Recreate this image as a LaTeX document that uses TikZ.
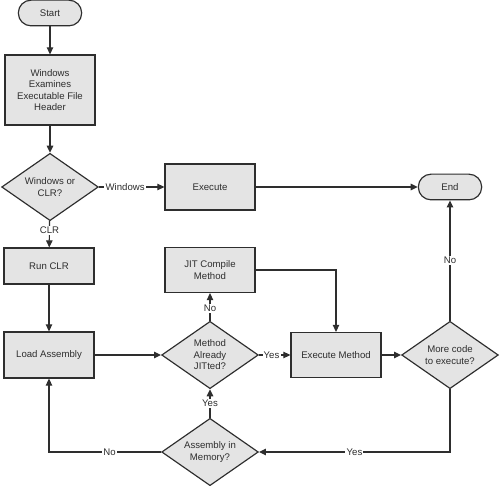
\documentclass[tikz,border=0pt]{standalone}
\usepackage{fontspec}
\setmainfont{Liberation Sans}
\usetikzlibrary{shapes.geometric,arrows.meta}
\definecolor{boxgray}{HTML}{E4E4E4}
\definecolor{linegray}{HTML}{2E2E2E}
\tikzset{
    stepbox/.style={rectangle, draw=linegray, fill=boxgray, line width=1pt, align=center, minimum width=2.7cm, inner sep=1pt},
    termbox/.style={rectangle, rounded corners=0.38cm, draw=linegray, fill=boxgray, line width=1pt, minimum width=1.9cm, minimum height=0.77cm},
    askbox/.style={diamond, draw=linegray, fill=boxgray, line width=1pt, align=center, aspect=1.45, inner sep=0pt, minimum width=2.9cm, minimum height=2.02cm},
    lbl/.style={fill=white, inner sep=1pt, text=linegray}
}
\begin{document}
\begin{tikzpicture}[x=0.03cm, y=-0.03cm, -{Triangle[length=6pt,width=5.5pt]}, line width=1pt, draw=linegray, text=linegray, font=\fontsize{8.2}{9.8}\selectfont]
    \useasboundingbox (0,0) rectangle (500,486);
    % Start up
    \node[termbox] (start) at (50,13) {Start};
    \node[stepbox, minimum height=2.1cm] (header) at (50,90) {Windows\\Examines\\Executable File\\Header};
    \node[askbox] (wclr) at (50,187) {Windows or\\CLR?};
    \node[stepbox, minimum height=1.38cm] (exec) at (210,187) {Execute};
    \node[termbox] (end) at (450,187) {End};
    % CLR branch
    \node[stepbox, minimum height=1.08cm] (runclr) at (49,266) {Run CLR};
    \node[stepbox, minimum height=1.38cm] (load) at (49,355) {Load Assembly};
    \node[stepbox, minimum height=1.35cm] (jit) at (210,270) {JIT Compile\\Method};
    \node[askbox] (jitted) at (210,355) {Method\\Already\\JITted?};
    \node[askbox] (inmem) at (210,452) {Assembly in\\Memory?};
    \node[stepbox, minimum height=1.35cm] (execm) at (336,355) {Execute Method};
    \node[askbox] (more) at (450,355) {More code\\to execute?};

    \draw (start) -- (header);
    \draw (header) -- (wclr);
    \draw (wclr) -- node[lbl, pos=0.35] {CLR} (runclr);
    \draw (wclr) -- node[lbl, pos=0.4] {Windows} (exec);
    \draw (exec) -- (end);
    \draw (runclr) -- (load);
    \draw (load) -- (jitted);
    \draw (jitted) -- node[lbl, pos=0.45] {No} (jit);
    \draw (jit) -| (execm);
    \draw (jitted) -- node[lbl, pos=0.4] {Yes} (execm);
    \draw (execm) -- (more);
    \draw (more) -- node[lbl, pos=0.5] {No} (end);
    \draw (more.south) |- node[lbl, pos=0.75] {Yes} (inmem.east);
    \draw (inmem) -- node[lbl, pos=0.5] {Yes} (jitted);
    \draw (inmem.west) -| node[lbl, pos=0.23] {No} (load.south);
\end{tikzpicture}
\end{document}
